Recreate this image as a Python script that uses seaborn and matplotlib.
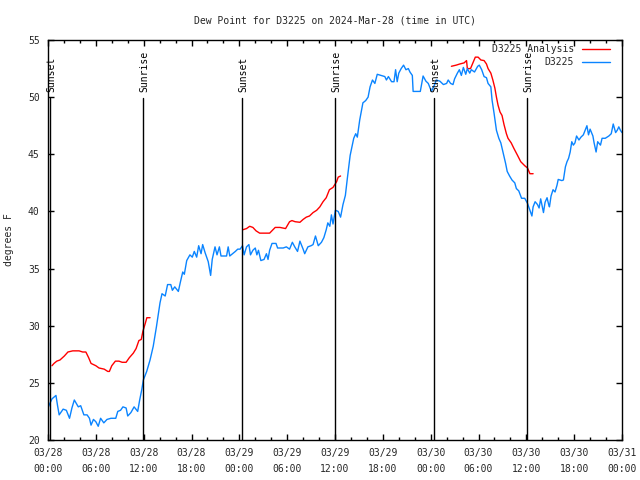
import numpy as np
import pandas as pd
import matplotlib
matplotlib.use("Agg")
import matplotlib.pyplot as plt
import matplotlib.dates as mdates
import seaborn as sns

title = "Dew Point for D3225 on 2024-Mar-28 (time in UTC)"
start = "2024-03-28 00:00"

# D3225 observations: hours after start, dew point (F)
obs_hours = [0.0, 0.17, 0.5, 1.0, 1.2, 1.4, 1.9, 2.3, 2.7, 3.0, 3.3, 3.8, 4.1, 4.5, 4.9, 5.2, 5.4, 5.7, 6.0, 6.3,
             6.6, 7.0, 7.4, 7.9, 8.5, 8.75, 9.1, 9.4, 9.8, 10.0, 10.4, 10.8, 11.25, 11.5, 11.76, 11.96, 12.38, 12.8,
             13.2, 13.6, 14.05, 14.3, 14.7, 15.0, 15.4, 15.6, 15.9, 16.35, 16.6, 16.9, 17.1, 17.4, 17.8, 18.1, 18.35,
             18.65, 18.9, 19.2, 19.4, 19.7, 19.9, 20.1, 20.4, 20.6, 20.95, 21.2, 21.5, 21.7, 22.4, 22.6, 22.8, 23.5,
             23.8, 24.1, 24.4, 24.6, 24.9, 25.2, 25.4, 25.7, 26.0, 26.2, 26.4, 26.7, 27.1, 27.4, 27.6, 27.8, 28.1,
             28.6, 28.8, 29.5, 29.9, 30.3, 30.65, 30.95, 31.3, 31.6, 32.0, 32.2, 32.6, 33.0, 33.25, 33.55, 33.9,
             34.3, 34.6, 34.9, 35.1, 35.35, 35.55, 35.75, 36.05, 36.4, 36.7, 37.0, 37.3, 37.55, 37.9, 38.35, 38.6,
             38.8, 39.1, 39.5, 39.85, 40.15, 40.4, 40.7, 41.0, 41.3, 41.8, 42.25, 42.45, 42.7, 43.1, 43.4, 43.6,
             43.8, 44.0, 44.3, 44.6, 44.9, 45.2, 45.4, 45.7, 45.8, 46.7, 47.05, 47.4, 47.7, 48.1, 48.5, 48.7, 49.15,
             49.6, 50.0, 50.2, 50.5, 50.8, 51.0, 51.35, 51.6, 51.85, 52.1, 52.4, 52.6, 52.9, 53.1, 53.5, 53.9, 54.1,
             54.4, 54.7, 55.0, 55.2, 55.55, 55.7, 55.95, 56.25, 56.55, 56.8, 57.1, 57.4, 57.6, 57.9, 58.2, 58.55,
             58.75, 59.05, 59.4, 59.8, 60.15, 60.45, 60.7, 60.85, 61.1, 61.4, 61.6, 61.8, 62.15, 62.35, 62.6, 62.8,
             62.9, 63.1, 63.35, 63.6, 63.85, 64.0, 64.45, 64.65, 64.9, 65.1, 65.3, 65.5, 65.7, 65.9, 66.1, 66.3,
             66.6, 66.85, 67.15, 67.6, 67.8, 68.0, 68.35, 68.5, 68.75, 68.95, 69.3, 69.5, 69.9, 70.35, 70.65, 70.9,
             71.2, 71.4, 71.6, 71.8, 72.0]
obs_values = [22.8, 23.1, 23.6, 23.9, 23.0, 22.2, 22.7, 22.6, 21.9, 22.8, 23.5, 22.9, 23.0, 22.2, 22.2, 21.9, 21.3,
              21.8, 21.6, 21.2, 21.9, 21.5, 21.8, 21.9, 21.9, 22.5, 22.6, 22.9, 22.8, 22.1, 22.4, 22.9, 22.5, 23.5,
              24.4, 25.25, 26.0, 27.0, 28.2, 29.9, 32.0, 32.8, 32.6, 33.6, 33.6, 33.1, 33.4, 33.0, 33.8, 34.7, 34.5,
              35.7, 36.2, 36.0, 36.5, 36.0, 37.0, 36.3, 37.1, 36.4, 36.0, 35.6, 34.4, 35.8, 36.9, 36.2, 36.9, 36.1,
              36.1, 36.9, 36.1, 36.5, 36.7, 36.7, 37.0, 36.2, 36.9, 37.1, 36.2, 36.6, 36.8, 36.2, 36.6, 35.7, 35.8,
              36.3, 35.8, 36.6, 37.2, 37.2, 36.8, 36.8, 36.9, 36.7, 37.3, 36.9, 36.5, 37.4, 36.7, 36.3, 36.9, 37.0,
              37.1, 37.85, 37.0, 37.3, 37.7, 38.4, 39.0, 38.7, 39.7, 38.9, 40.1, 40.0, 39.5, 40.6, 41.4, 42.9, 44.9,
              46.4, 46.8, 46.5, 48.0, 49.5, 49.7, 50.0, 50.9, 51.5, 51.2, 52.0, 51.9, 51.8, 51.5, 51.8, 51.35, 51.35,
              52.4, 51.35, 52.1, 52.5, 52.8, 52.4, 52.5, 52.2, 51.9, 50.5, 50.5, 51.85, 51.4, 51.2, 50.5, 51.1, 51.5,
              51.4, 51.1, 51.2, 51.5, 51.2, 51.1, 51.6, 52.1, 52.4, 51.9, 52.6, 52.0, 52.5, 52.1, 52.4, 52.2, 52.7,
              52.8, 52.4, 51.8, 51.7, 51.2, 50.9, 49.75, 48.6, 47.1, 46.4, 46.0, 45.1, 44.2, 43.5, 43.1, 42.75, 42.5,
              42.0, 41.8, 41.15, 41.15, 40.7, 40.1, 39.6, 40.4, 40.85, 40.6, 40.3, 41.1, 39.9, 40.8, 41.2, 40.6,
              40.4, 41.35, 41.9, 41.7, 42.3, 42.8, 42.7, 42.75, 43.9, 44.35, 44.65, 45.2, 46.1, 45.8, 46.0, 46.6,
              46.25, 46.5, 46.7, 47.5, 46.7, 47.2, 46.6, 46.0, 45.2, 46.1, 45.8, 46.4, 46.4, 46.6, 46.8, 47.65, 46.9,
              47.1, 47.4, 47.1, 46.9]

# D3225 Analysis: three separate segments (hours after start, dew point F)
ana_hours_1 = [0.5, 0.75, 1.1, 1.5, 2.05, 2.5, 3.1, 3.9, 4.35, 4.75, 5.1, 5.4, 6.0, 6.4, 7.05, 7.5, 7.7, 8.0, 8.45,
               8.9, 9.3, 9.8, 10.2, 10.7, 11.05, 11.4, 11.7, 11.9, 12.2, 12.4, 12.8]
ana_values_1 = [26.5, 26.7, 26.9, 27.0, 27.35, 27.7, 27.8, 27.8, 27.7, 27.7, 27.2, 26.7, 26.5, 26.3, 26.2, 26.0, 26.0,
                26.5, 26.9, 26.9, 26.8, 26.8, 27.2, 27.6, 28.0, 28.7, 28.8, 29.5, 30.2, 30.7, 30.7]
ana_hours_2 = [24.45, 24.9, 25.3, 25.7, 26.1, 26.55, 27.8, 28.5, 29.1, 29.8, 30.3, 30.6, 31.0, 31.6, 32.0, 32.4,
               32.8, 33.25, 33.7, 34.1, 34.5, 34.9, 35.3, 35.75, 36.2, 36.4, 36.7]
ana_values_2 = [38.4, 38.5, 38.7, 38.6, 38.3, 38.1, 38.1, 38.6, 38.6, 38.5, 39.1, 39.2, 39.1, 39.05, 39.3, 39.5,
                39.6, 39.9, 40.1, 40.4, 40.85, 41.2, 41.9, 42.1, 42.6, 43.0, 43.1]
ana_hours_3 = [50.6, 51.2, 51.65, 52.2, 52.5, 52.6, 53.0, 53.3, 53.6, 53.95, 54.3, 54.7, 55.0, 55.2, 55.55, 55.8,
               56.05, 56.25, 56.45, 56.7, 56.95, 57.2, 57.5, 57.7, 58.1, 58.45, 58.9, 59.3, 59.8, 60.15, 60.45, 60.85]
ana_values_3 = [52.7, 52.8, 52.9, 53.0, 53.2, 52.5, 52.5, 53.0, 53.5, 53.5, 53.25, 53.2, 52.9, 52.5, 52.1, 51.5,
                50.8, 50.0, 49.3, 48.7, 48.4, 47.6, 46.8, 46.4, 46.0, 45.5, 44.9, 44.35, 44.0, 43.8, 43.3, 43.3]

events = ["Sunset", "Sunrise", "Sunset", "Sunrise", "Sunset", "Sunrise"]
event_times = ["2024-03-28 00:15", "2024-03-28 11:55", "2024-03-29 00:20",
               "2024-03-29 12:00", "2024-03-30 00:25", "2024-03-30 12:05"]

y_ticks = [20, 25, 30, 35, 40, 45, 50, 55]
y_label = "degrees F"
series_names = ["D3225 Analysis", "D3225"]
colors = ["#ff0000", "#0a84ff"]

t0 = pd.Timestamp(start)
to_time = lambda hrs: t0 + pd.to_timedelta(np.array(hrs), unit="h")

obs = pd.DataFrame({"time": to_time(obs_hours), "value": obs_values})
ana = pd.concat([
    pd.DataFrame({"time": to_time(h), "value": v, "seg": i})
    for i, (h, v) in enumerate([(ana_hours_1, ana_values_1), (ana_hours_2, ana_values_2), (ana_hours_3, ana_values_3)])
])

sns.set_style("white")
plt.rcParams["font.family"] = ["DejaVu Sans Mono"]
FS = 7

fig = plt.figure(figsize=(6.4, 4.8), dpi=100)
ax = fig.add_axes([48/640, 40/480, 574/640, 400/480])

first = True
for seg, d in ana.groupby("seg"):
    sns.lineplot(data=d, x="time", y="value", ax=ax, color=colors[0], lw=1,
                 label=series_names[0] if first else None, estimator=None, sort=False)
    first = False
sns.lineplot(data=obs, x="time", y="value", ax=ax, color=colors[1], lw=1,
             label=series_names[1], estimator=None, sort=False)

for name, t in zip(events, event_times):
    tt = pd.Timestamp(t)
    ax.plot([tt, tt], [20, 49.9], color="black", lw=1)
    ax.text(mdates.date2num(tt) + 0.008, 50.45, name, rotation=90, ha="center", va="bottom",
            fontsize=FS, color="black")

ax.set_xlim(t0, t0 + pd.Timedelta(hours=72))
ax.set_ylim(20, 55)
ax.set_yticks(y_ticks)
ax.xaxis.set_major_locator(mdates.HourLocator(byhour=[0, 6, 12, 18]))
ax.xaxis.set_minor_locator(mdates.HourLocator(byhour=range(0, 24, 2)))
ax.xaxis.set_major_formatter(mdates.DateFormatter("%m/%d\n%H:%M"))
ax.tick_params(axis="both", which="major", direction="in", length=4, width=1, labelsize=FS,
               top=True, right=True, bottom=True, left=True, color="black", pad=6)
ax.tick_params(axis="x", which="minor", direction="in", length=2, width=1, top=True, bottom=True, color="black")
for lab in ax.get_xticklabels():
    lab.set_linespacing(1.7)
for s in ax.spines.values():
    s.set_color("black")
    s.set_linewidth(1)

ax.set_xlabel("")
ax.set_ylabel(y_label, fontsize=FS, labelpad=10)
ax.set_title(title, fontsize=FS, pad=12)

leg = ax.legend(loc="upper right", bbox_to_anchor=(0.979, 0.99), frameon=False, markerfirst=False,
                fontsize=FS, handlelength=2.9, handletextpad=0.8, labelspacing=0.3,
                borderpad=0, borderaxespad=0)

fig.savefig("out.png", dpi=100)
